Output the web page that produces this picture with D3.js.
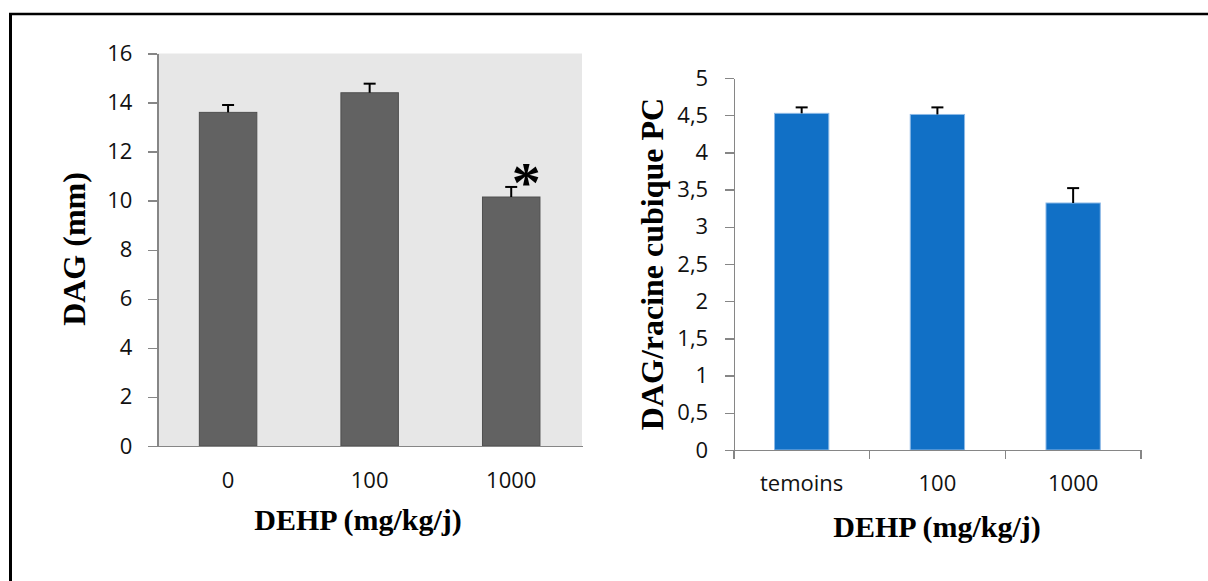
<!DOCTYPE html>
<meta charset="utf-8">
<style>
body { margin: 0; background: #fff; }
.axis path, .axis line { stroke: #868686; stroke-width: 1.5px; shape-rendering: crispEdges; }
.title { font-family: "Liberation Serif", "Times New Roman", serif; font-weight: bold; fill: #000; }
</style>
<body>
<svg id="chart" width="1208" height="581"></svg>
<script src="https://d3js.org/d3.v7.min.js"></script>
<script>
// left panel: DAG (mm)
var leftCats = ["0", "100", "1000"];
var leftMeans = [13.6, 14.4, 10.15];
var leftErr = [0.3, 0.37, 0.41];
var leftTicks = [0, 2, 4, 6, 8, 10, 12, 14, 16];
var leftStar = [false, false, true];

// right panel: DAG / racine cubique PC
var rightCats = ["temoins", "100", "1000"];
var rightMeans = [4.525, 4.51, 3.32];
var rightErr = [0.08, 0.095, 0.2];
var rightTicks = [0, 0.5, 1, 1.5, 2, 2.5, 3, 3.5, 4, 4.5, 5];

var svg = d3.select("#chart");

function styleTicks(sel) {
  sel.selectAll(".tick text")
    .style("font-family", "'Open Sans', sans-serif")
    .style("font-size", "22px")
    .attr("fill", "#111");
}

// frame (top and left edges only)
svg.append("line").attr("x1", 9).attr("x2", 1208).attr("y1", 14).attr("y2", 14)
  .attr("stroke", "#000").attr("stroke-width", 2.5);
svg.append("line").attr("x1", 10.5).attr("x2", 10.5).attr("y1", 13).attr("y2", 581)
  .attr("stroke", "#000").attr("stroke-width", 3);

// ---------- left chart ----------
var xL = d3.scaleBand().domain(leftCats).range([157.3, 582]),
    yL = d3.scaleLinear().domain([0, 16]).range([446, 53.5]);
var bwL = xL.bandwidth() * 0.406;

var gL = svg.append("g");

gL.append("rect")
  .attr("x", xL.range()[0]).attr("y", yL(16))
  .attr("width", xL.range()[1] - xL.range()[0]).attr("height", yL(0) - yL(16))
  .attr("fill", "#e7e7e7");

gL.selectAll(".bar")
  .data(leftCats)
  .enter().append("rect")
  .attr("x", function(d) { return xL(d) + (xL.bandwidth() - bwL) / 2; })
  .attr("y", function(d, i) { return yL(leftMeans[i]); })
  .attr("width", bwL)
  .attr("height", function(d, i) { return yL(0) - yL(leftMeans[i]); })
  .attr("fill", "#626262")
  .attr("stroke", "#4f4f4f")
  .attr("stroke-width", 1);

// error bars
leftCats.forEach(function(d, i) {
  var cx = xL(d) + xL.bandwidth() / 2;
  gL.append("line").attr("x1", cx).attr("x2", cx)
    .attr("y1", yL(leftMeans[i])).attr("y2", yL(leftMeans[i] + leftErr[i]))
    .attr("stroke", "#000").attr("stroke-width", 2);
  gL.append("line").attr("x1", cx - 6).attr("x2", cx + 6)
    .attr("y1", yL(leftMeans[i] + leftErr[i])).attr("y2", yL(leftMeans[i] + leftErr[i]))
    .attr("stroke", "#000").attr("stroke-width", 2);
  if (leftStar[i]) {
    gL.append("text").attr("class", "title")
      .attr("x", cx + 15).attr("y", yL(leftMeans[i] + leftErr[i]) + 15)
      .attr("text-anchor", "middle")
      .style("font-size", "58px")
      .text("*");
  }
});

var ayL = gL.append("g")
  .attr("class", "axis")
  .attr("transform", "translate(" + xL.range()[0] + ",0)")
  .call(d3.axisLeft(yL).tickValues(leftTicks).tickSize(9).tickSizeOuter(0).tickPadding(16));
styleTicks(ayL);

var axL = gL.append("g")
  .attr("class", "axis")
  .attr("transform", "translate(0," + yL(0) + ")")
  .call(d3.axisBottom(xL).tickSize(0).tickSizeOuter(0));
axL.selectAll(".tick text").attr("dy", null).attr("y", 42);
styleTicks(axL);

gL.append("text").attr("class", "title")
  .attr("x", 358).attr("y", 530)
  .attr("text-anchor", "middle")
  .style("font-size", "30px")
  .text("DEHP (mg/kg/j)");

gL.append("text").attr("class", "title")
  .attr("transform", "translate(85,249) rotate(-90)")
  .attr("text-anchor", "middle")
  .style("font-size", "32px")
  .text("DAG (mm)");

// ---------- right chart ----------
var xR = d3.scaleBand().domain(rightCats).range([733.8, 1141]),
    yR = d3.scaleLinear().domain([0, 5]).range([450, 78]);
var bwR = xR.bandwidth() * 0.4;

var gR = svg.append("g");

gR.selectAll(".bar")
  .data(rightCats)
  .enter().append("rect")
  .attr("x", function(d) { return xR(d) + (xR.bandwidth() - bwR) / 2; })
  .attr("y", function(d, i) { return yR(rightMeans[i]); })
  .attr("width", bwR)
  .attr("height", function(d, i) { return yR(0) - yR(rightMeans[i]); })
  .attr("fill", "#1170c6")
  .attr("stroke", "#8db9e6")
  .attr("stroke-width", 1);

rightCats.forEach(function(d, i) {
  var cx = xR(d) + xR.bandwidth() / 2;
  gR.append("line").attr("x1", cx).attr("x2", cx)
    .attr("y1", yR(rightMeans[i])).attr("y2", yR(rightMeans[i] + rightErr[i]))
    .attr("stroke", "#000").attr("stroke-width", 2);
  gR.append("line").attr("x1", cx - 6).attr("x2", cx + 6)
    .attr("y1", yR(rightMeans[i] + rightErr[i])).attr("y2", yR(rightMeans[i] + rightErr[i]))
    .attr("stroke", "#000").attr("stroke-width", 2);
});

var ayR = gR.append("g")
  .attr("class", "axis")
  .attr("transform", "translate(" + xR.range()[0] + ",0)")
  .call(d3.axisLeft(yR).tickValues(rightTicks).tickSize(8.6).tickSizeOuter(0).tickPadding(17)
    .tickFormat(function(d) { return String(d).replace(".", ","); }));
styleTicks(ayR);

var axR = gR.append("g")
  .attr("class", "axis")
  .attr("transform", "translate(0," + yR(0) + ")")
  .call(d3.axisBottom(xR).tickSize(0).tickSizeOuter(0));
axR.selectAll(".tick text").attr("dy", null).attr("y", 41);
styleTicks(axR);

// category boundary ticks
var bounds = rightCats.map(function(d) { return xR(d); }).concat([xR.range()[1]]);
axR.selectAll(".bound")
  .data(bounds)
  .enter().append("line")
  .attr("x1", function(d) { return d; }).attr("x2", function(d) { return d; })
  .attr("y1", 0).attr("y2", 8.5);

gR.append("text").attr("class", "title")
  .attr("x", 937).attr("y", 537)
  .attr("text-anchor", "middle")
  .style("font-size", "30px")
  .text("DEHP (mg/kg/j)");

gR.append("text").attr("class", "title")
  .attr("transform", "translate(663,264) rotate(-90)")
  .attr("text-anchor", "middle")
  .style("font-size", "32px")
  .text("DAG/racine cubique PC");
</script>
</body>
